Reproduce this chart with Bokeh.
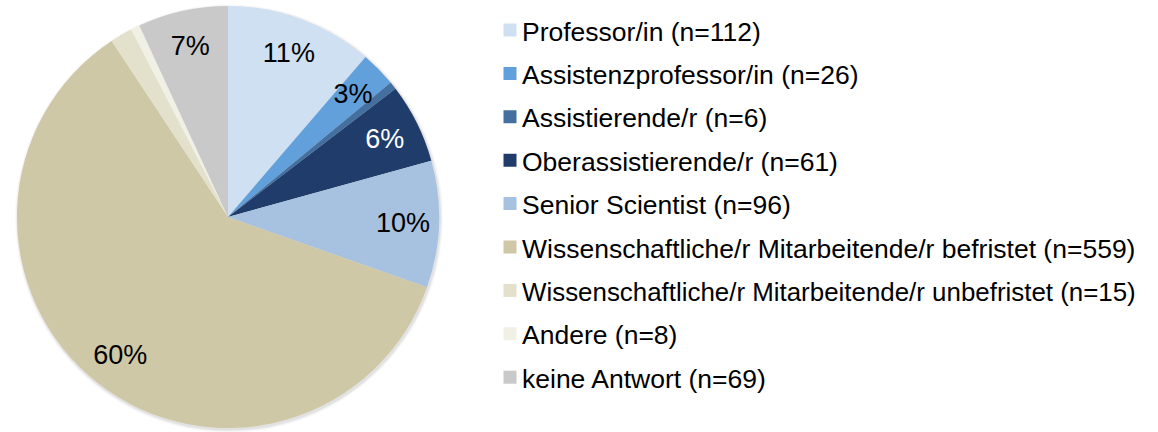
import numpy as np
from bokeh.plotting import figure
from bokeh.models import Range1d, ColumnDataSource
from bokeh.embed import file_html
from bokeh.resources import INLINE
from bokeh.core.properties import value

# ---- data ----
categories = [
    "Professor/in",
    "Assistenzprofessor/in",
    "Assistierende/r",
    "Oberassistierende/r",
    "Senior Scientist",
    "Wissenschaftliche/r Mitarbeitende/r befristet",
    "Wissenschaftliche/r Mitarbeitende/r unbefristet",
    "Andere",
    "keine Antwort",
]
counts = [112, 26, 6, 61, 96, 559, 15, 8, 69]
shares = [11.3, 2.7, 0.6, 6.1, 9.7, 60.3, 1.7, 0.7, 6.9]  # percent of pie
pct_labels = ["11%", "3%", "", "6%", "10%", "60%", "", "", "7%"]

# ---- styles ----
colors = ["#CFE0F3", "#62A0DC", "#44709F", "#1F3C6B", "#A7C1E0",
          "#CFC8A6", "#E3E0CB", "#F0F0E5", "#C9C9C9"]
label_colors = ["black", "black", "black", "white", "black",
                "black", "black", "black", "black"]
legend_sizes = ["26.5px"] * 6 + ["25.9px"] + ["26.5px"] * 2

W, H = 1158, 432
cx, cy, R = 227.5, 215.5, 211.0
FONT = "Liberation Sans"

p = figure(width=W, height=H, output_backend="svg", toolbar_location=None,
           x_range=Range1d(0, W), y_range=Range1d(0, H), min_border=0)
p.axis.visible = False
p.grid.visible = False
p.outline_line_color = None
p.background_fill_color = "white"
p.border_fill_color = "white"

# soft shadow
for dr, a in [(3.0, 0.05), (2.0, 0.08), (1.0, 0.12)]:
    p.circle(x=[cx + 1.0], y=[cy - 1.5], radius=R + dr, fill_color="#808080",
             fill_alpha=a, line_color=None)

fr = np.array(shares) / np.sum(shares)
cum_end = np.cumsum(fr)
cum_start = cum_end - fr
start = np.pi / 2 - 2 * np.pi * cum_end
end = np.pi / 2 - 2 * np.pi * cum_start
mid = (start + end) / 2

src = ColumnDataSource(dict(start=start, end=end, color=colors))
p.wedge(x=cx, y=cy, radius=R, start_angle="start", end_angle="end",
        fill_color="color", line_color=None, source=src)

lr = 0.83 * R
lab = ColumnDataSource(dict(x=cx + lr * np.cos(mid), y=cy + lr * np.sin(mid),
                            text=pct_labels, color=label_colors))
p.text(x="x", y="y", text="text", text_color="color", source=lab,
       text_font=value(FONT), text_font_size="27px",
       text_align="center", text_baseline="middle")

# legend (manual)
n = len(categories)
row0, step = H - 31.0, 43.4
ys = row0 - step * np.arange(n)
leg = ColumnDataSource(dict(
    y=ys, ysq=ys + 1.5, color=colors, size=legend_sizes,
    text=[f"{c} (n={k})" for c, k in zip(categories, counts)]))
p.rect(x=509.5, y="ysq", width=13, height=13, fill_color="color",
       line_color=None, source=leg)
p.text(x=521.5, y="y", text="text", source=leg, text_color="black",
       text_font=value(FONT), text_font_size="size",
       text_align="left", text_baseline="middle")

open("out.html", "w").write(file_html(p, INLINE))
